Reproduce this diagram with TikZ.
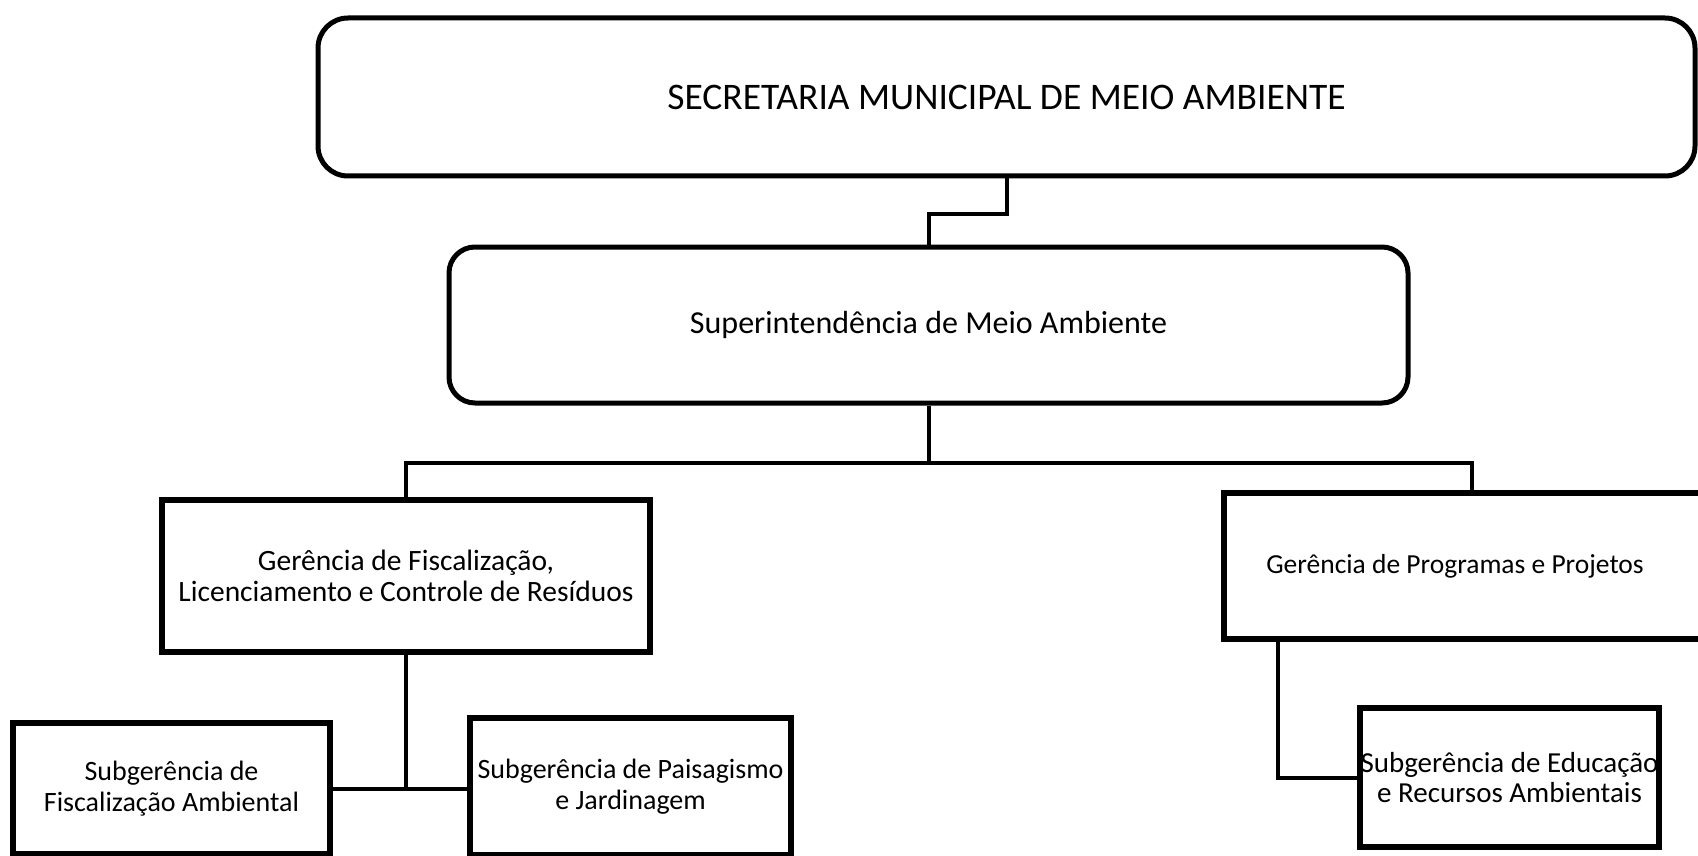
\documentclass[tikz,border=0pt]{standalone}
\usepackage{fontspec}
\setmainfont{Carlito}
\begin{document}
\begin{tikzpicture}[x=1pt,y=-1pt,
  roundbox/.style={draw=black,line width=5pt,fill=white,inner sep=0pt,align=center},
  sqbox/.style={draw=black,line width=6pt,fill=white,inner sep=0pt,align=center,font=\fontsize{28}{31}\selectfont},
  conn/.style={draw=black,line width=4pt}]
\useasboundingbox (0,0) rectangle (1698,856);
\fill[white] (0,0) rectangle (1698,856);
\node (top) [roundbox,rounded corners=30pt,minimum width=1377pt,minimum height=158pt,font=\fontsize{37.5}{44}\selectfont] at (1006.5,97) {SECRETARIA MUNICIPAL DE MEIO AMBIENTE};
\node (sup) [roundbox,rounded corners=26pt,minimum width=959pt,minimum height=156pt,font=\fontsize{32}{38}\selectfont] at (928.5,325) {Superintendência de Meio Ambiente};
\node (gf) [sqbox,minimum width=488pt,minimum height=152pt,font=\fontsize{29.5}{31}\selectfont] at (406,576) {Gerência de Fiscalização,\\Licenciamento e Controle de Resíduos};
\node (gp) [sqbox,minimum width=496pt,minimum height=146pt,font=\fontsize{27.5}{31}\selectfont] at (1472,566) {\hspace*{-34pt}Gerência de Programas e Projetos};
\node (sf) [sqbox,minimum width=317pt,minimum height=131pt] at (171.5,788.5) {Subgerência de\\Fiscalização Ambiental};
\node (sp) [sqbox,minimum width=321pt,minimum height=137pt] at (630.5,786.5) {Subgerência de Paisagismo\\e Jardinagem};
\node (se) [sqbox,minimum width=299pt,minimum height=139pt,font=\fontsize{29}{30}\selectfont] at (1509.5,777.5) {Subgerência de Educação\\e Recursos Ambientais};
\draw[conn] (top.south) -- ++(0,35) -| (sup.north);
\draw[conn] (sup.south) -- ++(0,57) coordinate (j1);
\draw[conn] (gf.north) |- (j1) -| (gp.north);
\draw[conn] (gf.south) -- (gf.south |- sf.east) coordinate (j2);
\draw[conn] (sf.east) -- (sp.west |- sf.east);
\draw[conn] ([xshift=-194pt]gp.south) |- (se.west);
\end{tikzpicture}
\end{document}
